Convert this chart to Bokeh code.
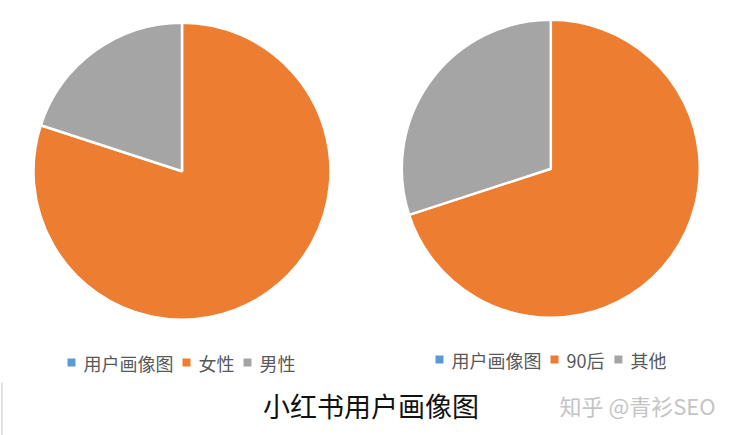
import numpy as np
from bokeh.plotting import figure
from bokeh.models import Range1d, ColumnDataSource
from bokeh.core.properties import value
from bokeh.embed import file_html
from bokeh.resources import INLINE

# ---- data ----
left_categories = ["用户画像图", "女性", "男性"]
left_values = [0, 80, 20]
right_categories = ["用户画像图", "90后", "其他"]
right_values = [0, 70, 30]
palette = ["#5B9BD5", "#ED7D31", "#A5A5A5"]
title_text = "小红书用户画像图"
watermark_text = "知乎 @青衫SEO"

W, H = 733, 435
FONT = "Noto Sans CJK SC"

p = figure(width=W, height=H, output_backend="svg", toolbar_location=None,
           x_range=Range1d(0, W), y_range=Range1d(0, H), min_border=0,
           background_fill_color="white", border_fill_color="white")
p.axis.visible = False
p.grid.visible = False
p.outline_line_color = None


def text_width(s, fs):
    w = 0
    for ch in s:
        if ord(ch) > 0x2E80:
            w += fs
        elif ch == " ":
            w += 0.3 * fs
        else:
            w += 0.58 * fs
    return w


def draw_pie(cx, cy, r, cats, vals):
    vals = np.array(vals, dtype=float)
    frac = vals / vals.sum()
    cum = np.concatenate([[0], np.cumsum(frac)])
    starts = np.pi / 2 - 2 * np.pi * cum[:-1]
    ends = np.pi / 2 - 2 * np.pi * cum[1:]
    keep = vals > 0
    src = ColumnDataSource(dict(
        x=[cx] * int(keep.sum()), y=[cy] * int(keep.sum()),
        start=list(starts[keep]), end=list(ends[keep]),
        color=[c for c, k in zip(palette, keep) if k]))
    p.wedge(x="x", y="y", radius=r, radius_units="screen",
            start_angle="start", end_angle="end", direction="clock",
            fill_color="color", line_color="white", line_width=2.5, source=src)


def draw_legend(x0, cy, cats, fs=18):
    xs_sq, xs_tx = [], []
    x = x0
    for c in cats:
        xs_sq.append(x + 4)
        xs_tx.append(x + 16)
        x += 16 + text_width(c, fs) + 9
    p.scatter(x=xs_sq, y=[cy] * len(cats), marker="square", size=8,
              fill_color=palette[:len(cats)], line_color=None)
    p.text(x=xs_tx, y=[cy] * len(cats), text=cats, text_font=value(FONT),
           text_font_size=f"{fs}px", text_color="#595959",
           text_align="left", text_baseline="middle")


draw_pie(181.5, 264.3, 148.5, left_categories, left_values)
draw_pie(550.3, 266.7, 149, right_categories, right_values)

draw_legend(67, 73, left_categories)
draw_legend(435, 76, right_categories)

# faint frame edge at lower left
p.segment(x0=[1.5], y0=[53], x1=[1.5], y1=[0], line_color="#d9d9d9", line_width=1.5)

p.text(x=[370.5], y=[30], text=[title_text], text_font=value(FONT),
       text_font_size="27px", text_color="#111111",
       text_align="center", text_baseline="middle")
p.text(x=[559], y=[31], text=[watermark_text], text_font=value(FONT),
       text_font_size="22px", text_color="#c4c4c4",
       text_align="left", text_baseline="middle")

open("out.html", "w").write(file_html(p, INLINE))
